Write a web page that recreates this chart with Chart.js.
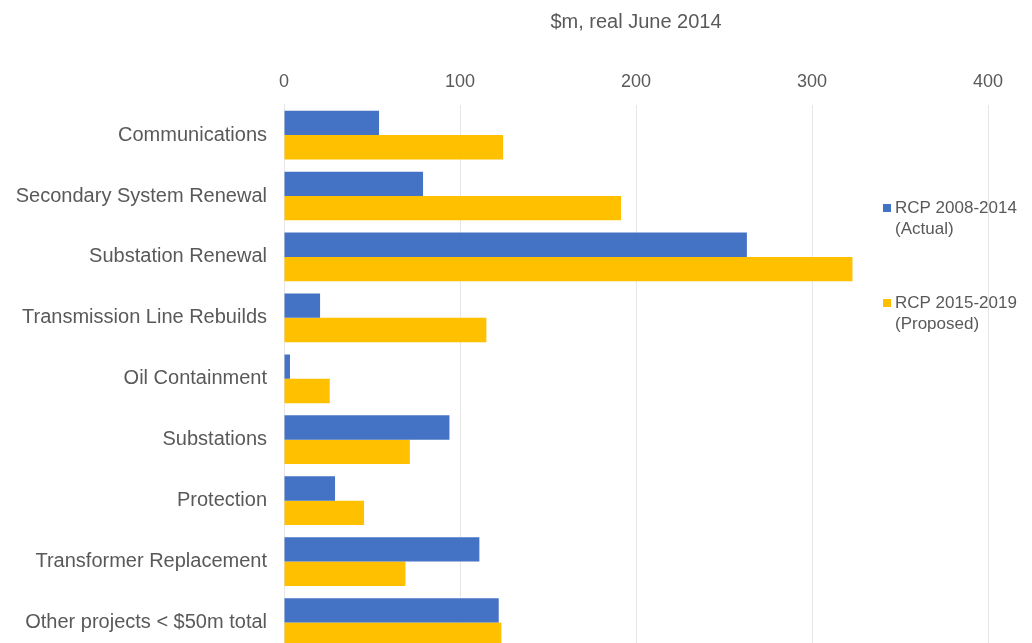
<!DOCTYPE html>
<html>
<head>
<meta charset="utf-8">
<script src="https://cdn.jsdelivr.net/npm/chart.js@4.4.1/dist/chart.umd.min.js"></script>
<style>
  html, body { margin: 0; padding: 0; background: #fff; overflow: hidden; }
  #wrap { width: 1032px; height: 643px; overflow: hidden; }
</style>
</head>
<body>
<div id="wrap">
  <canvas id="myChart" width="1032" height="653"></canvas>
</div>
<script>
// categories (top to bottom)
const categories = [
  'Communications',
  'Secondary System Renewal',
  'Substation Renewal',
  'Transmission Line Rebuilds',
  'Oil Containment',
  'Substations',
  'Protection',
  'Transformer Replacement',
  'Other projects < $50m total'
];
// $m, real June 2014
const actual2008 = [54, 79, 263, 20.5, 3.4, 94, 29, 111, 122];
const proposed2015 = [124.5, 191.5, 323, 115, 26, 71.5, 45.5, 69, 123.5];
const seriesNames = [
  ['RCP 2008-2014', '(Actual)'],
  ['RCP 2015-2019', '(Proposed)']
];
const xTicks = [0, 100, 200, 300, 400];
const axisTitle = '$m, real June 2014';

const blue = '#4472C4';
const gold = '#FFC000';
const grey = '#595959';
const FONT = 'Arial, "Liberation Sans", sans-serif';

// legend drawn on the right, over the plot area like the original
const sideLegend = {
  id: 'sideLegend',
  afterDraw(chart) {
    const ctx = chart.ctx;
    ctx.save();
    ctx.font = '17px ' + FONT;
    ctx.textBaseline = 'middle';
    ctx.textAlign = 'left';
    const tops = [208, 303];
    chart.data.datasets.forEach((ds, i) => {
      const y = tops[i];
      ctx.fillStyle = ds.backgroundColor;
      ctx.fillRect(883, y - 4, 8, 8);
      ctx.fillStyle = grey;
      ds.label.forEach((line, j) => {
        ctx.fillText(line, 895, y + j * 21);
      });
    });
    ctx.restore();
  }
};

const config = {
  type: 'bar',
  data: {
    labels: categories,
    datasets: [
      {
        label: seriesNames[0],
        data: actual2008,
        backgroundColor: blue,
        categoryPercentage: 0.8,
        barPercentage: 1.0
      },
      {
        label: seriesNames[1],
        data: proposed2015,
        backgroundColor: gold,
        categoryPercentage: 0.8,
        barPercentage: 1.0
      }
    ]
  },
  options: {
    indexAxis: 'y',
    responsive: false,
    animation: false,
    layout: { padding: { left: 0, right: 44, top: 0, bottom: 0 } },
    plugins: {
      legend: { display: false },
      tooltip: { enabled: false }
    },
    scales: {
      x: {
        position: 'top',
        min: 0,
        max: 400,
        afterBuildTicks: (scale) => {
          scale.ticks = xTicks.map(v => ({ value: v }));
        },
        afterFit: (scale) => {
          scale.height = 104.6;
          scale.paddingLeft = 0;
          scale.paddingRight = 0;
        },
        grid: { color: '#E6E6E6', drawTicks: false, lineWidth: 1 },
        border: { display: false },
        ticks: {
          color: grey,
          font: { family: FONT, size: 18 },
          padding: 12
        },
        title: {
          display: true,
          text: axisTitle,
          color: grey,
          font: { family: FONT, size: 20 },
          padding: { top: 10, bottom: 0 }
        }
      },
      y: {
        afterFit: (scale) => {
          scale.width = 284;
          scale.paddingTop = 0;
          scale.paddingBottom = 0;
        },
        grid: { display: false, drawTicks: false },
        border: { display: true, color: '#E6E6E6' },
        ticks: {
          color: grey,
          font: { family: FONT, size: 20 },
          padding: 17
        }
      }
    }
  },
  plugins: [sideLegend]
};

var myChart = new Chart(document.getElementById('myChart'), config);
</script>
</body>
</html>
